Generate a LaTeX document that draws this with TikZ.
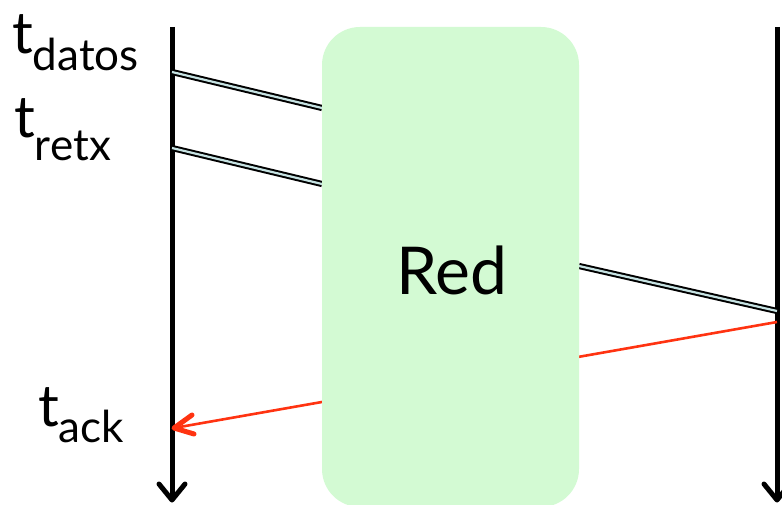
\documentclass[tikz,border=0pt]{standalone}
\usepackage{fontspec}
\setmainfont{Lato}
\definecolor{netgreen}{HTML}{D3FAD3}
\definecolor{pktin}{HTML}{C6E2E2}
\definecolor{ackred}{HTML}{FF3311}
\tikzset{
  axisline/.style={line width=5pt},
  barb/.style={line width=5pt, line cap=round, line join=round},
  pkt/.style={line width=2pt, double=pktin, double distance=2.2pt},
  ackline/.style={ackred, line width=2.6pt},
  lbl/.style={anchor=base west, inner sep=0pt},
}
\newcommand{\tmain}{\fontsize{58}{58}\selectfont}
\newcommand{\tsub}{\fontsize{44}{44}\selectfont}
\begin{document}
\begin{tikzpicture}[x=1pt,y=-1pt]
\useasboundingbox (0,0) rectangle (782,505);
% axes
\coordinate (Ltop) at (172,27);
\coordinate (Lbot) at (172,500);
\coordinate (Rtop) at (777,27);
\coordinate (Rbot) at (777,500);
\coordinate (Lbl) at (159,484); \coordinate (Lbr) at (185,484);
\coordinate (Rbl) at (764,484); \coordinate (Rbr) at (790,484);
\draw[axisline] (Ltop) -- (Lbot);
\draw[axisline] (Rtop) -- (Rbot);
\draw[barb] (Lbl) -- (Lbot) -- (Lbr);
\draw[barb] (Rbl) -- (Rbot) -- (Rbr);
% packets
\coordinate (d1a) at (172,72);  \coordinate (d1b) at (322,108);
\coordinate (d2a) at (172,148); \coordinate (d2b) at (322,184);
\coordinate (d3a) at (579,266); \coordinate (d3b) at (777,311);
\draw[pkt] (d1a) -- (d1b);
\draw[pkt] (d2a) -- (d2b);
\draw[pkt] (d3a) -- (d3b);
% ack
\coordinate (ackS) at (777,322);
\coordinate (ackE) at (174,428);
\coordinate (ackU) at (192,415);
\coordinate (ackD) at (194,434);
\draw[ackline] (ackS) -- (ackE);
\draw[barb, ackred] (ackU) -- (ackE) -- (ackD);
% network
\node[fill=netgreen, rounded corners=38pt, minimum width=257pt, minimum height=480pt, inner sep=0pt] (net) at (450.5,267) {};
\node (red) at (452,270) {\fontsize{66}{66}\selectfont Red};
% labels
\node[lbl] (tdatos) at (12,54) {\tmain t\raisebox{-17pt}{\tsub datos}};
\node[lbl] (tretx) at (14,138) {\tmain t\raisebox{-23pt}{\tsub retx}};
\node[lbl] (tack) at (38,426) {\tmain t\raisebox{-16pt}{\tsub ack}};
\end{tikzpicture}
\end{document}
